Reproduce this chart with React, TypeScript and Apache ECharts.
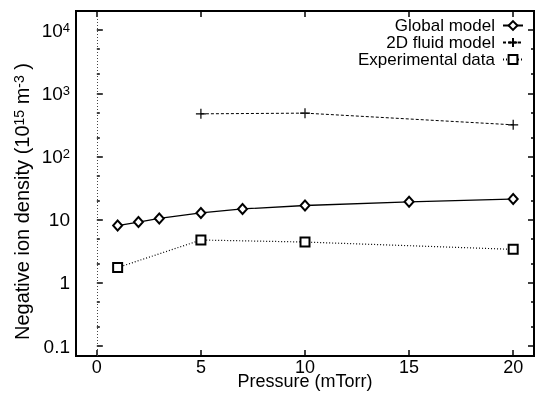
import React, { useEffect, useRef } from "react";
import * as echarts from "echarts";

const globalX = [1, 2, 3, 5, 7, 10, 15, 20];
const globalModel = [8.1, 9.2, 10.5, 12.8, 14.8, 16.8, 19.2, 21.2];
const fluidX = [5, 10, 20];
const fluidModel = [473, 485, 317];
const expX = [1, 5, 10, 20];
const expData = [1.75, 4.78, 4.44, 3.4];
const xTicks = [0, 5, 10, 15, 20];
const yMajorTicks = [0.1, 1, 10, 100, 1000, 10000];
const yMinorTicks = [0.2, 0.5, 2, 5, 20, 50, 200, 500, 2000, 5000];

const FONT = "'Liberation Sans', Arial, Helvetica, sans-serif";

function pairs(xs: number[], ys: number[]) {
  return xs.map((x, i) => [x, ys[i]]);
}

function yLabel(v: number) {
  const e = Math.round(Math.log10(v));
  if (e >= 2) return `10{sup|${e}}`;
  if (e === 1) return "10";
  if (e === 0) return "1";
  return "0.1";
}

export default function App() {
  const ref = useRef<HTMLDivElement>(null);
  useEffect(() => {
    if (!ref.current) return;
    const chart = echarts.init(ref.current, null, { renderer: "svg" });
    const yBase = {
      type: "log" as const,
      logBase: 10,
      min: 0.07,
      max: 20000,
      splitLine: { show: false },
      axisLine: { show: false },
    };
    const xBase = {
      type: "value" as const,
      min: -1,
      max: 21,
      splitLine: { show: false },
      axisLine: { show: false },
    };
    chart.setOption({
      animation: false,
      textStyle: { fontFamily: FONT, color: "#000" },
      grid: {
        left: 76,
        right: 6,
        top: 11,
        bottom: 40,
        show: true,
        borderColor: "#000",
        borderWidth: 2,
        backgroundColor: "transparent",
        containLabel: false,
        outerBoundsMode: "none",
      },
      legend: {
        orient: "vertical",
        align: "right",
        right: 11,
        top: 12,
        itemWidth: 20,
        itemHeight: 11,
        itemGap: 0,
        textStyle: {
          fontSize: 17,
          color: "#000",
          fontFamily: FONT,
          padding: [0, 3, 0, 0],
        },
        data: ["Global model", "2D fluid model", "Experimental data"],
      },
      xAxis: [
        {
          ...xBase,
          position: "bottom",
          name: "Pressure (mTorr)",
          nameLocation: "middle",
          nameGap: 16,
          nameMoveOverlap: false,
          nameTextStyle: { fontSize: 18, color: "#000", fontFamily: FONT },
          axisTick: {
            show: true,
            inside: true,
            length: 6,
            lineStyle: { color: "#000", width: 1.5 },
            customValues: xTicks,
          },
          axisLabel: {
            show: true,
            margin: 2,
            fontSize: 18,
            color: "#000",
            fontFamily: FONT,
            customValues: xTicks,
          },
        },
        {
          ...xBase,
          position: "top",
          axisTick: {
            show: true,
            inside: true,
            length: 6,
            lineStyle: { color: "#000", width: 1.5 },
            customValues: xTicks,
          },
          axisLabel: { show: false },
        },
      ],
      yAxis: [
        {
          ...yBase,
          position: "left",
          name: "Negative ion density (10{sup|15} m{sup|-3} )",
          nameLocation: "middle",
          nameGap: 44,
          nameMoveOverlap: false,
          nameTextStyle: {
            fontSize: 20,
            color: "#000",
            fontFamily: FONT,
            padding: [0, 36, 0, 0],
            rich: { sup: { fontSize: 14, verticalAlign: "top", fontFamily: FONT } },
          },
          axisTick: {
            show: true,
            inside: true,
            length: 6,
            lineStyle: { color: "#000", width: 1.5 },
            customValues: yMajorTicks,
          },
          axisLabel: {
            show: true,
            margin: 6,
            fontSize: 19,
            color: "#000",
            fontFamily: FONT,
            customValues: yMajorTicks,
            formatter: yLabel,
            rich: { sup: { fontSize: 13, verticalAlign: "top", fontFamily: FONT } },
          },
        },
        {
          ...yBase,
          position: "left",
          axisTick: {
            show: true,
            inside: true,
            length: 3,
            lineStyle: { color: "#000", width: 1.5 },
            customValues: yMinorTicks,
          },
          axisLabel: { show: false },
        },
        {
          ...yBase,
          position: "right",
          axisTick: {
            show: true,
            inside: true,
            length: 6,
            lineStyle: { color: "#000", width: 1.5 },
            customValues: yMajorTicks,
          },
          axisLabel: { show: false },
        },
        {
          ...yBase,
          position: "right",
          axisTick: {
            show: true,
            inside: true,
            length: 3,
            lineStyle: { color: "#000", width: 1.5 },
            customValues: yMinorTicks,
          },
          axisLabel: { show: false },
        },
      ],
      series: [
        {
          name: "Global model",
          type: "line",
          data: pairs(globalX, globalModel),
          symbol: "emptyDiamond",
          symbolSize: [9, 10],
          lineStyle: { color: "#000", width: 1.3, type: "solid" },
          itemStyle: { color: "#000", borderColor: "#000", borderWidth: 1 },
          markLine: {
            silent: true,
            symbol: ["none", "none"],
            label: { show: false },
            lineStyle: { color: "#444", width: 1, type: [1, 2] },
            data: [{ xAxis: 0 }],
          },
          z: 3,
        },
        {
          name: "2D fluid model",
          type: "line",
          data: pairs(fluidX, fluidModel),
          symbol: "path://M0,5L10,5M5,0L5,10",
          symbolSize: 10,
          lineStyle: { color: "#000", width: 1, type: [3, 2] },
          itemStyle: { color: "#000", borderColor: "#000", borderWidth: 1.2 },
          z: 3,
        },
        {
          name: "Experimental data",
          type: "line",
          data: pairs(expX, expData),
          symbol: "emptyRect",
          symbolSize: 9,
          lineStyle: { color: "#000", width: 1.2, type: [1, 2] },
          itemStyle: { color: "#000", borderColor: "#000", borderWidth: 1 },
          z: 3,
        },
      ],
    });
    return () => chart.dispose();
  }, []);
  return (
    <div
      ref={ref}
      style={{ position: "fixed", left: 0, top: 0, width: 540, height: 396 }}
    />
  );
}
